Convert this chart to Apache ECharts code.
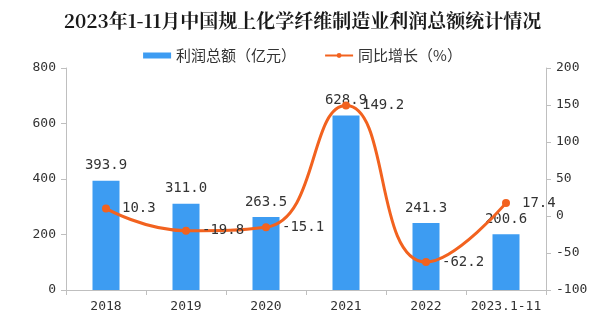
<!DOCTYPE html>
<html><head><meta charset="utf-8">
<script src="https://cdn.jsdelivr.net/npm/echarts@6/dist/echarts.min.js"></script>
<style>html,body{margin:0;padding:0;background:#fff}#c{width:605px;height:324px}</style>
</head><body><div id="c"></div>
<script>
const categories = ['2018','2019','2020','2021','2022','2023.1-11'];
const profit = [393.9, 311.0, 263.5, 628.9, 241.3, 200.6];
const growth = [10.3, -19.8, -15.1, 149.2, -62.2, 17.4];
const leftTicks = {min:0, max:800, interval:200};
const rightTicks = {min:-100, max:200, interval:50};
const labelFont = "'DejaVu Sans Mono', monospace";
const chart = echarts.init(document.getElementById('c'), null, {renderer:'canvas'});
const axisLine = {show:true, lineStyle:{color:'#bfbfbf', width:1}};
chart.setOption({
  animation:false,
  title:{text:'2023年1-11月中国规上化学纤维制造业利润总额统计情况', left:'center', top:6,
    textStyle:{fontSize:19, fontWeight:'bold', color:'#1a1a1a', fontFamily:"'Noto Serif CJK SC','Noto Sans CJK SC', serif"}},
  legend:{top:43, left:'center', itemGap:28, itemWidth:28, itemHeight:6,
    textStyle:{fontSize:15, color:'#333', fontFamily:"'Noto Sans CJK SC', sans-serif"},
    data:[{name:'利润总额（亿元）', icon:'rect'}, {name:'同比增长（%）'}]},
  grid:{left:66, right:59, top:68, bottom:34, containLabel:false},
  xAxis:{type:'category', data:categories, axisLine:axisLine,
    axisTick:{show:true, alignWithLabel:false, length:5, lineStyle:{color:'#bfbfbf'}},
    axisLabel:{interval:0, fontSize:13, color:'#333', margin:10, fontFamily:labelFont}},
  yAxis:[
    {type:'value', min:leftTicks.min, max:leftTicks.max, interval:leftTicks.interval, axisLine:axisLine,
     axisTick:{show:true, length:5, lineStyle:{color:'#bfbfbf'}}, splitLine:{show:false},
     axisLabel:{fontSize:13, color:'#333', margin:10, fontFamily:labelFont}},
    {type:'value', min:rightTicks.min, max:rightTicks.max, interval:rightTicks.interval, axisLine:axisLine,
     axisTick:{show:true, length:5, inside:false, lineStyle:{color:'#bfbfbf'}}, splitLine:{show:false},
     axisLabel:{fontSize:13, color:'#333', margin:10, fontFamily:labelFont}}
  ],
  series:[
    {name:'利润总额（亿元）', type:'bar', data:profit, barWidth:27, itemStyle:{color:'#3d9cf2'},
     label:{show:true, position:'top', distance:8, fontSize:14, color:'#333', fontFamily:labelFont,
       formatter:p=>p.value.toFixed(1)}},
    {name:'同比增长（%）', type:'line', yAxisIndex:1, data:growth, smooth:0.5, symbol:'circle', symbolSize:8,
     itemStyle:{color:'#f2621f'}, lineStyle:{color:'#f2621f', width:3},
     label:{show:true, position:'right', distance:12, fontSize:14, color:'#333', fontFamily:labelFont,
       formatter:p=>p.value.toFixed(1)}}
  ]
});
</script></body></html>
